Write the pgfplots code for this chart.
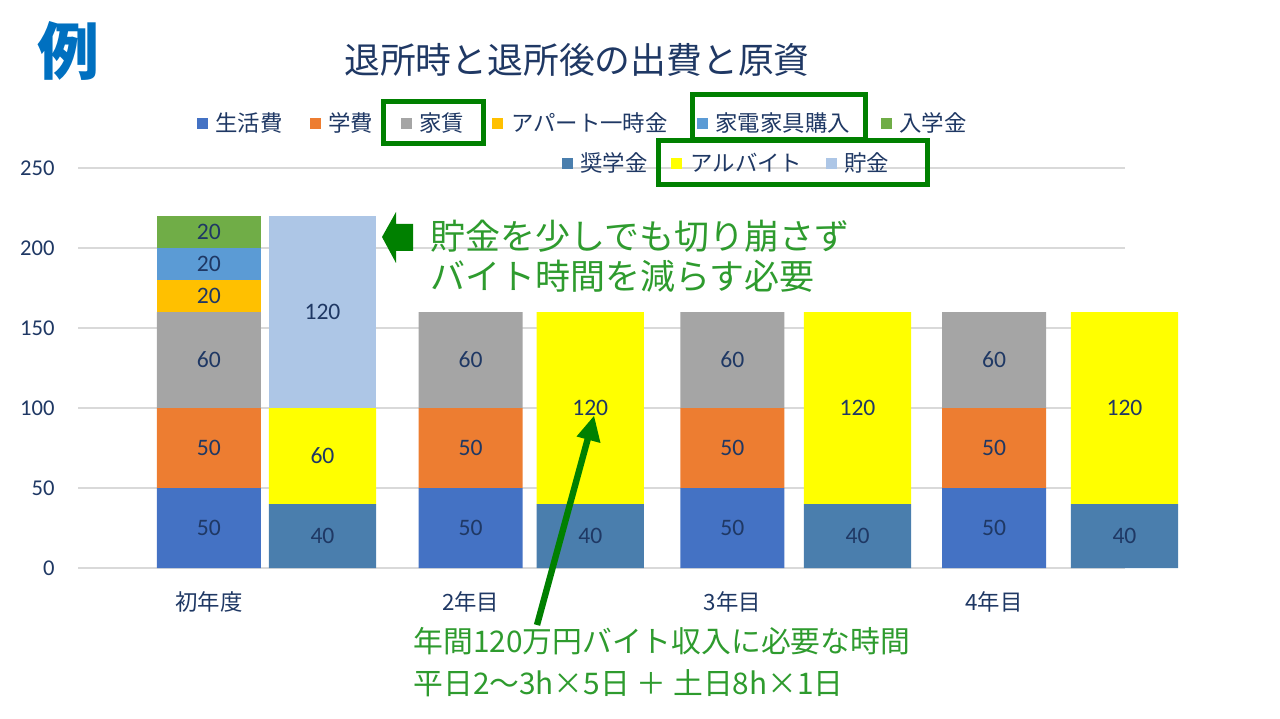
\documentclass[border=0pt]{standalone}
\usepackage{pgfplots}
\usepackage{pgfplotstable}
\pgfplotsset{compat=1.18}
\usepackage{fontspec}
\setmainfont{Carlito}
\newfontfamily\jp{Noto Sans CJK JP}
\definecolor{cSeikatsu}{HTML}{4472C4}
\definecolor{cGakuhi}{HTML}{ED7D31}
\definecolor{cYachin}{HTML}{A5A5A5}
\definecolor{cApart}{HTML}{FFC000}
\definecolor{cKaden}{HTML}{5B9BD5}
\definecolor{cNyugaku}{HTML}{70AD47}
\definecolor{cShogaku}{HTML}{4A7EAD}
\definecolor{cBaito}{HTML}{FFFF00}
\definecolor{cChokin}{HTML}{ADC6E6}
\definecolor{navy}{HTML}{1F3864}
\definecolor{dgreen}{HTML}{008000}
\definecolor{tgreen}{HTML}{2E9B2E}
\definecolor{rei}{HTML}{0070C0}

\pgfplotstableread{
x      seikatsu gakuhi yachin apart kaden nyugaku shogaku baito chokin
0      50 50 60 20 20 20 0  0   0
0.434  0  0  0  0  0  0  40 60  120
1      50 50 60 0  0  0  0  0   0
1.457  0  0  0  0  0  0  40 120 0
2      50 50 60 0  0  0  0  0   0
2.478  0  0  0  0  0  0  40 120 0
3      50 50 60 0  0  0  0  0   0
3.498  0  0  0  0  0  0  40 120 0
}\data

\pgfplotstableread{
x      y    l
0      25   50
0      75   50
0      130  60
0      170  20
0      190  20
0      210  20
0.434  20   40
0.434  70   60
0.434  160  120
1      25   50
1      75   50
1      130  60
1.457  20   40
1.457  100  120
2      25   50
2      75   50
2      130  60
2.478  20   40
2.478  100  120
3      25   50
3      75   50
3      130  60
3.498  20   40
3.498  100  120
}\labels

\newcommand\lgd[1]{{\jp\fontsize{11.2pt}{13pt}\selectfont\color{navy}#1}}

\begin{document}
\begin{tikzpicture}
\useasboundingbox (0pt,0pt) rectangle (640pt,359pt);

\begin{axis}[
  at={(39pt,75pt)}, anchor=south west,
  scale only axis, width=523.5pt, height=200pt,
  xmin=-0.5, xmax=3.5, ymin=0, ymax=250,
  ybar stacked, bar width=0.397,
  clip=false,
  axis line style={draw=none}, tick style={draw=none},
  ymajorgrids, grid style={color=black!15, line width=0.8pt},
  ytick={0,50,...,250},
  /pgf/number format/assume math mode=true,
  xtick={0,1,2,3}, xticklabels={初年度,2年目,3年目,4年目},
  xticklabel style={font=\jp\fontsize{11.2pt}{13pt}\selectfont, text=navy, anchor=center, yshift=-17pt},
  yticklabel style={font=\fontsize{11.3pt}{13pt}\selectfont, text=navy, anchor=east, inner sep=0pt, xshift=-11.5pt},
]
\addplot[fill=cSeikatsu, draw=none] table[x=x,y=seikatsu]{\data};
\addplot[fill=cGakuhi, draw=none] table[x=x,y=gakuhi]{\data};
\addplot[fill=cYachin, draw=none] table[x=x,y=yachin]{\data};
\addplot[fill=cApart, draw=none] table[x=x,y=apart]{\data};
\addplot[fill=cKaden, draw=none] table[x=x,y=kaden]{\data};
\addplot[fill=cNyugaku, draw=none] table[x=x,y=nyugaku]{\data};
\addplot[fill=cShogaku, draw=none, bar width=0.409] table[x=x,y=shogaku]{\data};
\addplot[fill=cBaito, draw=none, bar width=0.409] table[x=x,y=baito]{\data};
\addplot[fill=cChokin, draw=none, bar width=0.409] table[x=x,y=chokin]{\data};
\end{axis}

\begin{axis}[
  at={(39pt,75pt)}, anchor=south west,
  scale only axis, width=523.5pt, height=200pt,
  xmin=-0.5, xmax=3.5, ymin=0, ymax=250,
  hide axis, clip=false,
]
\addplot[draw=none, mark=none, nodes near coords, point meta=explicit symbolic,
  nodes near coords style={anchor=center, font=\fontsize{11.8pt}{13pt}\selectfont, text=navy}]
  table[x=x,y=y,meta=l]{\labels};
\end{axis}

\begin{scope}[x=0.5pt,y=0.5pt]
% big label
\node[text=rei, inner sep=0] at (69,667) {\jp\bfseries\fontsize{31pt}{34pt}\selectfont 例};
% title
\node[text=navy, inner sep=0] at (577,658) {\jp\fontsize{17.9pt}{20pt}\selectfont 退所時と退所後の出費と原資};

% legend row 1
\fill[cSeikatsu] (197,589) rectangle (208,600);
\node[anchor=west, inner sep=0] at (215,595) {\lgd{生活費}};
\fill[cGakuhi] (310,589) rectangle (321,600);
\node[anchor=west, inner sep=0] at (328,595) {\lgd{学費}};
\fill[cYachin] (401,589) rectangle (412,600);
\node[anchor=west, inner sep=0] at (419,595) {\lgd{家賃}};
\fill[cApart] (492,589) rectangle (503,600);
\node[anchor=west, inner sep=0] at (511,595) {\lgd{アパート一時金}};
\fill[cKaden] (697,589) rectangle (708,600);
\node[anchor=west, inner sep=0] at (715,595) {\lgd{家電家具購入}};
\fill[cNyugaku] (881,589) rectangle (892,600);
\node[anchor=west, inner sep=0] at (899,595) {\lgd{入学金}};
% legend row 2
\fill[cShogaku] (562,549) rectangle (573,560);
\node[anchor=west, inner sep=0] at (580,555) {\lgd{奨学金}};
\fill[cBaito] (671,549) rectangle (682,560);
\node[anchor=west, inner sep=0] at (690,555) {\lgd{アルバイト}};
\fill[cChokin] (826,549) rectangle (837,560);
\node[anchor=west, inner sep=0] at (844,555) {\lgd{貯金}};

% green boxes
\draw[dgreen, line width=2.5pt] (383,616) rectangle (483,574);
\draw[dgreen, line width=2.5pt] (692,623.5) rectangle (865,578);
\draw[dgreen, line width=2.5pt] (658.5,577.5) rectangle (927.5,533);

% left block arrow
\fill[dgreen] (382,481) -- (396,506) -- (396,494) -- (413,494) -- (413,467) -- (396,467) -- (396,455) -- cycle;
\node[anchor=west, inner sep=0, text=tgreen] at (430,482) {\jp\fontsize{17.5pt}{20pt}\selectfont 貯金を少しでも切り崩さず};
\node[anchor=west, inner sep=0, text=tgreen] at (430,442) {\jp\fontsize{17.5pt}{20pt}\selectfont バイト時間を減らす必要};

% long arrow
\draw[dgreen, line width=3.2pt] (537,93) -- (588,280);
\fill[dgreen] (594,302) -- (600.5,275) -- (576.5,281.5) -- cycle;
\node[anchor=west, inner sep=0, text=tgreen] at (413,77) {\jp\fontsize{14.9pt}{17pt}\selectfont 年間120万円バイト収入に必要な時間};
\node[anchor=west, inner sep=0, text=tgreen] at (413,35) {\jp\fontsize{14.9pt}{17pt}\selectfont 平日2～3h×5日 ＋ 土日8h×1日};
\end{scope}
\end{tikzpicture}
\end{document}
